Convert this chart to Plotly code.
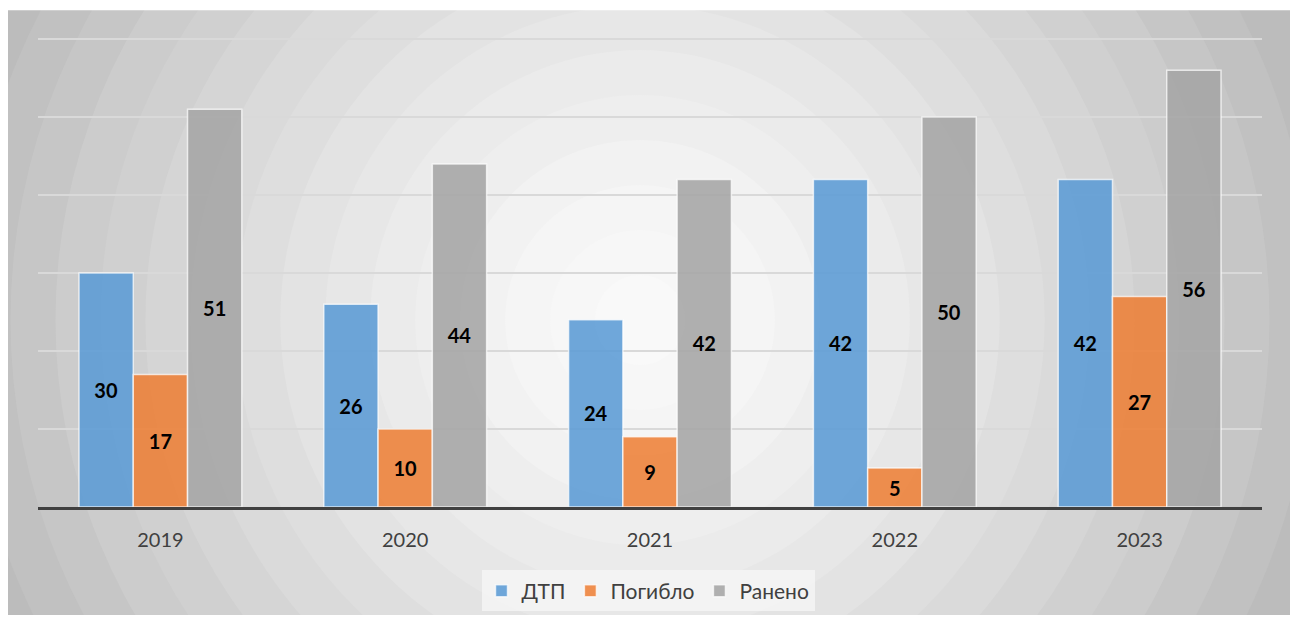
import plotly.graph_objects as go

years = ["2019", "2020", "2021", "2022", "2023"]
dtp = [30, 26, 24, 42, 42]
died = [17, 10, 9, 5, 27]
injured = [51, 44, 42, 50, 56]
series_names = ["ДТП", "Погибло", "Ранено"]
colors = ["rgba(91,155,213,0.88)", "rgba(237,125,49,0.85)", "rgba(165,165,165,0.88)"]

YMAX = 60.4

# figure size (the page body adds an 8px margin around it)
W, H = 1282, 607
ML, MR, MB = 29.5, 27.5, 108
PH = 7.8 * YMAX
MT = H - MB - PH
PW = W - ML - MR


def px_x(p):
    return (p - ML) / PW


def px_y(p):
    return (H - MB - p) / PH


fig = go.Figure()
for name, vals, col in zip(series_names, [dtp, died, injured], colors):
    fig.add_trace(go.Bar(
        x=years, y=vals, name=name,
        marker=dict(color=col, line=dict(color="rgba(255,255,255,0.7)", width=1.5)),
        text=[str(v) for v in vals], textposition="inside", insidetextanchor="middle",
        textangle=0, constraintext="none",
        textfont=dict(family="Lato", size=20, color="black", weight="bold"),
        cliponaxis=False,
    ))

# banded radial gradient background
shapes = []
cx, cy = 632, 312
step = 45
n = 16
for k in reversed(range(n)):
    r = step * (k + 1)
    d = step * (k + 0.5)
    g = int(round(250 - 63 * (d / 705) ** 1.35))
    shapes.append(dict(type="circle", xref="paper", yref="paper", layer="below",
                       x0=px_x(cx - r), x1=px_x(cx + r), y0=px_y(cy + r), y1=px_y(cy - r),
                       fillcolor=f"rgb({g},{g},{g})", line=dict(width=0)))
# thin white strip on top of the chart area
shapes.append(dict(type="rect", xref="paper", yref="paper", layer="below",
                   x0=px_x(-20), x1=px_x(W + 20), y0=px_y(2), y1=px_y(-20),
                   fillcolor="white", line=dict(width=0)))

fig.update_layout(
    width=W, height=H, autosize=False,
    margin=dict(l=ML, r=MR, t=MT, b=MB, pad=0, autoexpand=False),
    paper_bgcolor="#bfbfbf", plot_bgcolor="rgba(0,0,0,0)",
    barmode="group", bargap=0.335, bargroupgap=0,
    font=dict(family="Lato", color="#404040"),
    shapes=shapes,
    showlegend=True,
    legend=dict(orientation="h", x=px_x(640), xanchor="center", y=px_y(583), yanchor="middle",
                bgcolor="rgba(245,245,245,0.85)", font=dict(size=21, color="#404040"),
                traceorder="normal"),
    xaxis=dict(showline=True, linecolor="#404040", linewidth=3, showgrid=False,
               ticks="outside", ticklen=13, tickcolor="rgba(0,0,0,0)",
               tickfont=dict(size=20, color="#404040"), automargin=False),
    yaxis=dict(range=[0, YMAX], dtick=10, showticklabels=False, showgrid=True,
               gridcolor="#d9d9d9", gridwidth=1.5, zeroline=False, showline=False,
               automargin=False),
)

fig.write_html("out.html")
